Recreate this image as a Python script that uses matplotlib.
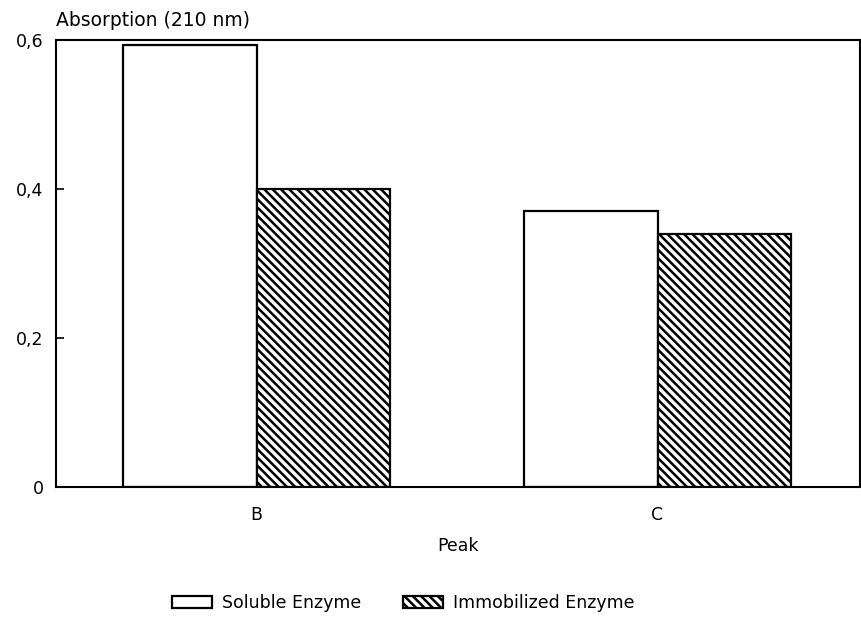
import numpy as np
import matplotlib
matplotlib.use("Agg")
import matplotlib.pyplot as plt

# Absorption at 210 nm for each peak
peaks = ["B", "C"]
soluble = [0.593, 0.37]
immobilized = [0.40, 0.34]
yticks = [0, 0.2, 0.4, 0.6]
ytick_labels = ["0", "0,2", "0,4", "0,6"]

plt.rcParams['font.family'] = ['DejaVu Sans']
plt.rcParams['hatch.linewidth'] = 1.8

fig = plt.figure(figsize=(8.62, 6.21), dpi=100)
ax = fig.add_axes([0.065, 0.2158, 0.9327, 0.7198])

x = np.arange(len(peaks))
w = 0.334
ax.bar(x - w / 2, soluble, w, color="white", edgecolor="black",
       linewidth=1.6, label="Soluble Enzyme")
ax.bar(x + w / 2, immobilized, w, color="white", edgecolor="black",
       linewidth=1.6, hatch="\\\\\\\\", label="Immobilized Enzyme")

ax.set_xlim(-0.5, 1.505)
ax.set_ylim(0, 0.6)
ax.set_xticks(x)
ax.set_xticklabels(peaks, fontsize=12.5)
ax.set_yticks(yticks)
ax.set_yticklabels(ytick_labels, fontsize=12.5)
ax.tick_params(axis="y", direction="in", length=6, width=1.2, pad=9)
ax.tick_params(axis="x", length=0, pad=14)
for s in ax.spines.values():
    s.set_linewidth(1.5)

ax.set_xlabel("Peak", fontsize=12.5, labelpad=9)
ax.annotate("Absorption (210 nm)", xy=(0, 1), xycoords="axes fraction",
            xytext=(0, 7), textcoords="offset points",
            ha="left", va="bottom", fontsize=13.5)

fig.legend(loc="center", bbox_to_anchor=(0.468, 0.029), ncol=2,
           frameon=False, fontsize=12.5, handlelength=2.3,
           handletextpad=0.6, columnspacing=2.4)

fig.savefig("out.png", dpi=100)
